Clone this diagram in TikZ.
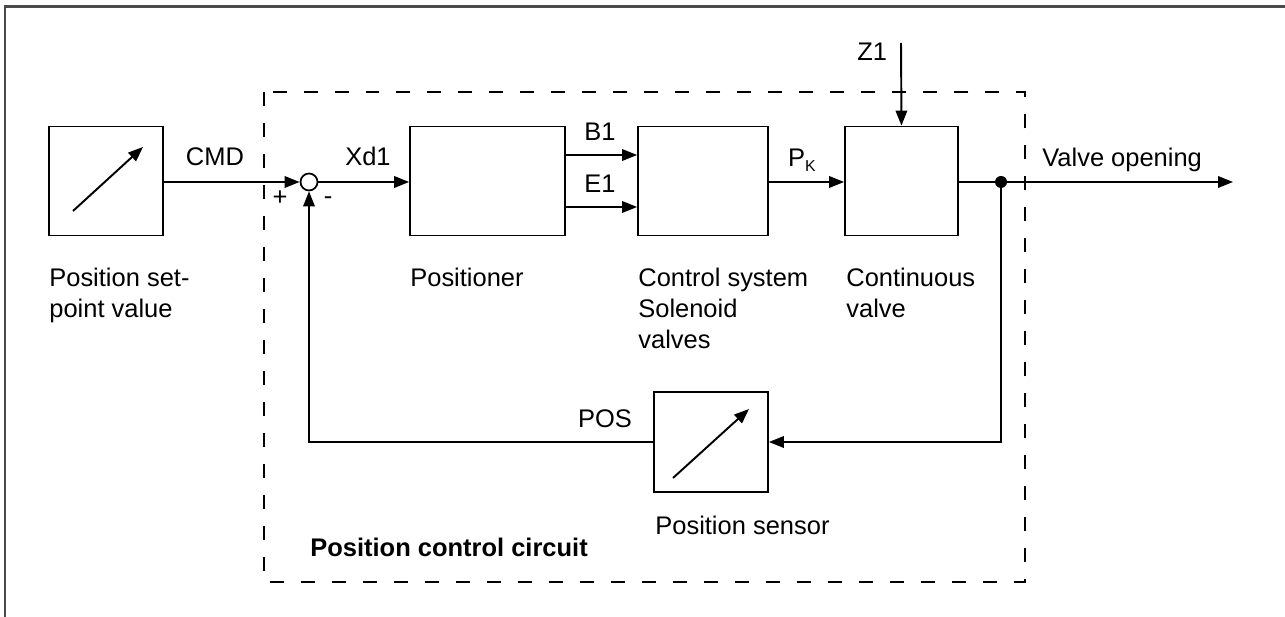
\documentclass[tikz,border=0pt]{standalone}
\usepackage{fontspec}
\setmainfont{Liberation Sans}
\usetikzlibrary{arrows.meta, positioning}
\definecolor{framegray}{HTML}{4A4A4A}

\begin{document}
\begin{tikzpicture}[
  x=0.02cm, y=-0.02cm,
  every node/.style={font=\fontsize{14.5}{17.6}\selectfont, align=left},
  blk/.style={draw, line width=1pt, minimum height=2.18cm, inner sep=0pt},
  lbl/.style={anchor=north west, inner sep=0pt},
  sig/.style={anchor=base, inner sep=0pt},
  arr/.style={-{Triangle[length=8.5pt, width=6.5pt]}, line width=1.1pt},
  plain/.style={line width=1.1pt},
  sumpt/.style={draw, circle, line width=1pt, minimum size=0.34cm, inner sep=0pt},
  dotpt/.style={fill, circle, minimum size=0.24cm, inner sep=0pt},
  loopbox/.style={dashed, dash pattern=on 0.28cm off 0.34cm, line width=1.1pt},
  frame/.style={framegray, line width=1.2pt}
]
\useasboundingbox (0,0) rectangle (1285,617);

% outer frame
\draw[frame] (5,617) -- (5,6.5) -- (1285,6.5);

% position control circuit
\draw[loopbox] (264,92) rectangle (1025,582);
\node[lbl, font=\fontsize{14.5}{17.6}\selectfont\bfseries] (pcc) at (310,538) {Position control circuit};

% blocks
\node[blk, minimum width=2.28cm] (sp) at (106,181) {};
\node[sumpt] (sum) at (309,182) {};
\node[blk, minimum width=3.1cm] (pos) at (487.5,181) {};
\node[blk, minimum width=2.6cm] (cs) at (703,181) {};
\node[blk, minimum width=2.26cm] (cv) at (901.5,181) {};
\node[blk, minimum width=2.28cm, minimum height=2.0cm] (ps) at (711,442) {};
\node[dotpt] (jn) at (1001,182) {};
\coordinate (out) at (1233,182);
\coordinate (z1top) at (901,43);

% block texts
\node[lbl] (sptext) at (49,268) {Position set-\\point value};
\node[lbl] (postext) at (410,268) {Positioner};
\node[lbl] (cstext) at (638,268) {Control system\\Solenoid\\valves};
\node[lbl] (cvtext) at (846,268) {Continuous\\valve};
\node[lbl] (pstext) at (655,516) {Position sensor};

% arrows inside the sensor blocks
\draw[arr] ([shift={(-33,30)}]sp.center) -- ([shift={(37,-34)}]sp.center);
\draw[arr] ([shift={(-38,36)}]ps.center) -- ([shift={(38,-33)}]ps.center);

% forward path
\draw[arr] (sp.east |- sum) -- (sum.west);
\draw[arr] (sum.east) -- (pos.west |- sum);
\draw[arr] ([yshift=0.52cm]pos.east) -- ([yshift=0.52cm]cs.west);
\draw[arr] ([yshift=-0.52cm]pos.east) -- ([yshift=-0.52cm]cs.west);
\draw[arr] (cs.east |- sum) -- (cv.west |- sum);
\draw[arr] (cv.east |- sum) -- (out);
\draw[arr] (z1top) -- (cv.north);

% feedback path
\draw[arr] (jn.center) |- (ps.east);
\draw[arr] (ps.west) -| (sum.south);

% signal labels
\node[sig] (cmd) at (215,166) {CMD};
\node[sig] (xd1) at (368,166) {Xd1};
\node[sig] (b1) at (600,141) {B1};
\node[sig] (e1) at (600,193) {E1};
\node[sig] (pk) at (802,167) {P\raisebox{-0.35ex}{\fontsize{9}{10}\selectfont K}};
\node[sig, anchor=base west] (vo) at (1042,167) {Valve opening};
\node[sig, anchor=base west] (z1) at (857,61) {Z1};
\node[sig] (posl) at (605,428) {POS};
\node (plus) at (280,198) {+};
\node (minus) at (328,201) {-};

\end{tikzpicture}
\end{document}
